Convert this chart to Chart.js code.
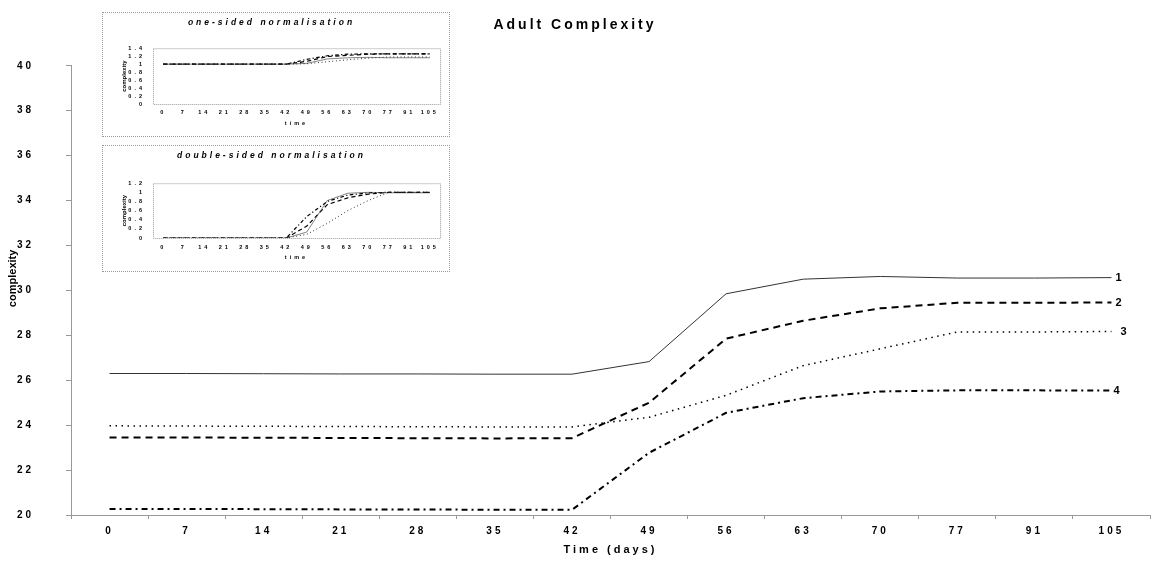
<!DOCTYPE html>
<html>
<head>
<meta charset="utf-8">
<script src="https://cdn.jsdelivr.net/npm/chart.js@4.4.1/dist/chart.umd.min.js"></script>
<style>
  html, body { margin: 0; padding: 0; background: #fff; }
  #wrap { position: relative; width: 1154px; height: 572px; }
  #mainChart { position: absolute; left: 0; top: 0; }
  .inset { position: absolute; left: 102px; width: 348px; border: 1px dotted #999; background: #fff; box-sizing: border-box; }
  .inset canvas { display: block; }
  #box1 { top: 12px; height: 125px; }
  #box2 { top: 145px; height: 127px; }
</style>
</head>
<body>
<div id="wrap">
  <canvas id="mainChart" width="1154" height="572"></canvas>
  <div class="inset" id="box1"><canvas id="inset1" width="346" height="123"></canvas></div>
  <div class="inset" id="box2"><canvas id="inset2" width="346" height="125"></canvas></div>
</div>
<script>
// dane
const days = ['0', '7', '14', '21', '28', '35', '42', '49', '56', '63', '70', '77', '91', '105'];

const series1 = [26.30, 26.30, 26.29, 26.28, 26.28, 26.27, 26.27, 26.83, 29.85, 30.50, 30.62, 30.55, 30.55, 30.57];
const series2 = [23.45, 23.45, 23.44, 23.43, 23.42, 23.41, 23.42, 25.00, 27.85, 28.65, 29.20, 29.45, 29.45, 29.46];
const series3 = [23.97, 23.96, 23.95, 23.94, 23.93, 23.92, 23.92, 24.35, 25.33, 26.65, 27.40, 28.15, 28.15, 28.17];
const series4 = [20.27, 20.27, 20.26, 20.25, 20.25, 20.23, 20.23, 22.77, 24.55, 25.20, 25.50, 25.55, 25.55, 25.54];
const seriesTags = ['1', '2', '3', '4'];

// inset: one-sided normalisation
const oneSided1 = [1, 1, 1, 1, 1, 1, 1, 1.02, 1.13, 1.16, 1.17, 1.16, 1.16, 1.16];
const oneSided2 = [1, 1, 1, 1, 1, 1, 1, 1.07, 1.19, 1.22, 1.25, 1.26, 1.26, 1.26];
const oneSided3 = [1, 1, 1, 1, 1, 1, 1, 1.01, 1.06, 1.11, 1.15, 1.18, 1.18, 1.18];
const oneSided4 = [1, 1, 1, 1, 1, 1, 1, 1.12, 1.21, 1.25, 1.26, 1.26, 1.26, 1.26];

// inset: double-sided normalisation
const doubleSided1 = [0, 0, 0, 0, 0, 0, 0, 0.13, 0.82, 0.98, 1.0, 0.99, 0.99, 0.99];
const doubleSided2 = [0, 0, 0, 0, 0, 0, 0, 0.26, 0.73, 0.88, 0.96, 1.0, 1.0, 1.0];
const doubleSided3 = [0, 0, 0, 0, 0, 0, 0, 0.08, 0.32, 0.60, 0.82, 1.0, 1.0, 1.0];
const doubleSided4 = [0, 0, 0, 0, 0, 0, 0, 0.47, 0.80, 0.94, 0.99, 1.0, 1.0, 1.0];

const FONT = '"Liberation Sans", Arial, sans-serif';

const lineStyles = [
    { borderColor: '#333', borderWidth: 1, borderDash: [] },
    { borderColor: '#000', borderWidth: 2, borderDash: [7, 5] },
    { borderColor: '#000', borderWidth: 1.5, borderDash: [1.5, 4.5] },
    { borderColor: '#000', borderWidth: 2, borderDash: [6, 4, 2, 4] }
];

function makeDatasets(arrays, scale) {
    return arrays.map((values, i) => ({
        data: values,
        borderColor: lineStyles[i].borderColor,
        borderWidth: lineStyles[i].borderWidth * scale,
        borderDash: lineStyles[i].borderDash.map(v => v * scale),
        pointRadius: 0,
        tension: 0,
        fill: false
    }));
}

// roztažení písmen jako v předloze
function letterSpacing(px) {
    return {
        id: 'letterSpacing',
        beforeDraw(chart) { chart.ctx.letterSpacing = px; },
        afterDraw(chart) { chart.ctx.letterSpacing = '0px'; }
    };
}

// titulek osy y je bez roztažení (a v hlavním grafu trochu výš)
function plainYTitle(shift) {
    return {
        id: 'plainYTitle',
        afterLayout(chart) {
            const y = chart.scales.y;
            if (!y || y._plainPatched) return;
            const orig = y.drawTitle.bind(y);
            y.drawTitle = function () {
                const ctx = this.ctx;
                const prev = ctx.letterSpacing;
                ctx.save();
                ctx.translate(0, shift);
                ctx.letterSpacing = '0px';
                orig();
                ctx.restore();
                ctx.letterSpacing = prev;
            };
            y._plainPatched = true;
        }
    };
}

const tagOffsets = [7, 7, 12, 5];
const endTags = {
    id: 'endTags',
    afterDatasetsDraw(chart) {
        const ctx = chart.ctx;
        ctx.save();
        ctx.letterSpacing = '0px';
        ctx.font = 'bold 11px ' + FONT;
        ctx.fillStyle = '#000';
        ctx.textAlign = 'center';
        ctx.textBaseline = 'middle';
        chart.data.datasets.forEach((ds, i) => {
            const meta = chart.getDatasetMeta(i);
            const pt = meta.data[meta.data.length - 1];
            ctx.fillText(seriesTags[i], pt.x + tagOffsets[i], pt.y);
        });
        ctx.restore();
    }
};

const frame = {
    id: 'frame',
    beforeDatasetsDraw(chart) {
        const { left, top, right, bottom } = chart.chartArea;
        const ctx = chart.ctx;
        ctx.save();
        ctx.strokeStyle = '#999';
        ctx.lineWidth = 1;
        ctx.setLineDash([1, 1]);
        ctx.strokeRect(left + 0.5, top + 0.5, right - left, bottom - top);
        ctx.restore();
    }
};

new Chart(document.getElementById('mainChart'), {
    type: 'line',
    data: {
        labels: days,
        datasets: makeDatasets([series1, series2, series3, series4], 1)
    },
    options: {
        responsive: false,
        animation: false,
        layout: { padding: { left: 0, right: 4, top: 0, bottom: 0 } },
        plugins: {
            legend: { display: false },
            tooltip: { enabled: false },
            title: {
                display: true,
                text: 'Adult Complexity',
                color: '#000',
                font: { family: FONT, size: 14, weight: 'bold' },
                padding: { top: 17, bottom: 32 }
            }
        },
        scales: {
            x: {
                type: 'category',
                offset: true,
                grid: { drawOnChartArea: false, offset: true, tickLength: 4, color: '#999' },
                border: { color: '#999', dash: [1, 1] },
                ticks: { color: '#000', font: { family: FONT, size: 10, weight: 'bold' }, padding: 6, maxRotation: 0, autoSkip: false },
                title: {
                    display: true,
                    text: 'Time (days)',
                    color: '#000',
                    font: { family: FONT, size: 11, weight: 'bold' },
                    padding: { top: 0, bottom: 15 }
                },
                afterFit(scale) { scale.height = 57; }
            },
            y: {
                min: 20,
                max: 40,
                grid: { drawOnChartArea: false, tickLength: 5, color: '#999' },
                border: { color: '#999', dash: [1, 1] },
                ticks: { stepSize: 2, color: '#000', font: { family: FONT, size: 10, weight: 'bold' }, padding: 32 },
                title: {
                    display: true,
                    text: 'complexity',
                    color: '#000',
                    font: { family: FONT, size: 11, weight: 'bold' },
                    padding: { top: 6, bottom: 0 }
                },
                afterFit(scale) { scale.width = 71; }
            }
        }
    },
    plugins: [letterSpacing('3px'), plainYTitle(-12), endTags]
});

function insetChart(id, title, arrays, yMax, opts) {
    const small = { family: FONT, size: 5.5, weight: 'bold' };
    return new Chart(document.getElementById(id), {
        type: 'line',
        data: { labels: days, datasets: makeDatasets(arrays, 0.6) },
        options: {
            responsive: false,
            animation: false,
            layout: { padding: { left: 0, right: 9, top: 0, bottom: 0 } },
            plugins: {
                legend: { display: false },
                tooltip: { enabled: false },
                title: {
                    display: true,
                    text: title,
                    color: '#000',
                    font: { family: FONT, size: 8.5, weight: 'bold', style: 'italic' },
                    padding: { top: 5, bottom: opts.titleBottom }
                }
            },
            scales: {
                x: {
                    type: 'category',
                    offset: true,
                    grid: { display: false, drawTicks: false },
                    border: { display: false },
                    ticks: { color: '#000', font: small, padding: opts.xPad, maxRotation: 0, autoSkip: false },
                    title: { display: true, text: 'time', color: '#000', font: small, padding: { top: 0, bottom: opts.timeBottom } },
                    afterFit(scale) { scale.height = opts.xHeight; }
                },
                y: {
                    min: 0,
                    max: yMax,
                    grid: { display: false, drawTicks: false },
                    border: { display: false },
                    ticks: {
                        stepSize: 0.2,
                        autoSkip: false,
                        color: '#000',
                        font: small,
                        padding: 8,
                        callback: v => String(Math.round(v * 10) / 10)
                    },
                    title: { display: true, text: 'complexity', color: '#000', font: { family: FONT, size: 6, weight: 'bold' }, padding: { top: 18, bottom: 0 } },
                    afterFit(scale) { scale.width = 50; }
                }
            }
        },
        plugins: [letterSpacing('3px'), plainYTitle(0), frame]
    });
}

insetChart('inset1', 'one-sided normalisation',
    [oneSided1, oneSided2, oneSided3, oneSided4], 1.4,
    { titleBottom: 20, xPad: 5, timeBottom: 9, xHeight: 32 });

insetChart('inset2', 'double-sided normalisation',
    [doubleSided1, doubleSided2, doubleSided3, doubleSided4], 1.2,
    { titleBottom: 22, xPad: 6, timeBottom: 10, xHeight: 33 });
</script>
</body>
</html>
